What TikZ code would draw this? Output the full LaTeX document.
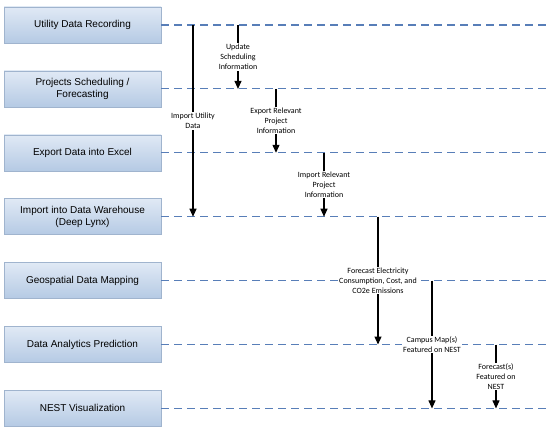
\documentclass[tikz,border=0pt]{standalone}
\usepackage{fontspec}
\setmainfont{Liberation Sans}
\newfontfamily\lblfont{Carlito}
\usepackage{tikz}
\usetikzlibrary{arrows.meta, positioning}

\definecolor{stagetop}{RGB}{224,233,245}
\definecolor{stagebot}{RGB}{181,202,228}
\definecolor{stageedge}{RGB}{160,180,206}
\definecolor{lanecol}{RGB}{88,126,184}

\begin{document}
\begin{tikzpicture}[
  x=1pt, y=-1pt,
  every node/.style={align=center},
  stage/.style={draw=stageedge, top color=stagetop, bottom color=stagebot,
                minimum width=157pt, minimum height=36pt, inner sep=1pt,
                font=\fontsize{10}{11.5}\selectfont},
  lane/.style={draw=lanecol, line width=1.1pt, dash pattern=on 8pt off 5pt},
  arr/.style={-{Triangle[length=8pt, width=7pt]}, line width=1.1pt},
  lbl/.style={fill=white, inner sep=1pt, font=\lblfont\fontsize{8}{9.8}\selectfont},
]
  \useasboundingbox (0,0) rectangle (550,428);

  % stages on the left
  \node[stage] (rec)   at (82.5,25) {Utility Data Recording};
  \node[stage, below=27.5pt of rec]   (sched) {Projects Scheduling /\\Forecasting};
  \node[stage, below=27.5pt of sched] (excel) {Export Data into Excel};
  \node[stage, below=27.5pt of excel] (ware)  {Import into Data Warehouse\\(Deep Lynx)};
  \node[stage, below=27.5pt of ware]  (geo)   {Geospatial Data Mapping};
  \node[stage, below=27.5pt of geo]   (pred)  {Data Analytics Prediction};
  \node[stage, below=27.5pt of pred]  (nest)  {NEST Visualization};

  % right edge and arrow columns
  \coordinate (rim)    at (550,0);
  \coordinate (utilx)  at (193,0);
  \coordinate (updx)   at (238,0);
  \coordinate (expx)   at (276,0);
  \coordinate (impx)   at (324,0);
  \coordinate (elecx)  at (378,0);
  \coordinate (mapx)   at (432,0);
  \coordinate (castx)  at (496,0);

  % swim lanes
  \foreach \s in {rec, sched, excel, ware, geo, pred, nest}
    \draw[lane] (\s.east) -- (\s.east -| rim);

  % data flows
  \draw[arr] (rec.east -| utilx) -- node[lbl] {Import Utility\\Data} (ware.east -| utilx);
  \draw[arr] (rec.east -| updx) -- node[lbl] {Update\\Scheduling\\Information} (sched.east -| updx);
  \draw[arr] (sched.east -| expx) -- node[lbl] {Export Relevant\\Project\\Information} (excel.east -| expx);
  \draw[arr] (excel.east -| impx) -- node[lbl] {Import Relevant\\Project\\Information} (ware.east -| impx);
  \draw[arr] (ware.east -| elecx) -- node[lbl]
        {Forecast Electricity\\Consumption, Cost, and\\CO2e Emissions} (pred.east -| elecx);
  \draw[arr] (geo.east -| mapx) -- node[lbl] {Campus Map(s)\\Featured on NEST} (nest.east -| mapx);
  \draw[arr] (pred.east -| castx) -- node[lbl] {Forecast(s)\\Featured on\\NEST} (nest.east -| castx);
\end{tikzpicture}
\end{document}
